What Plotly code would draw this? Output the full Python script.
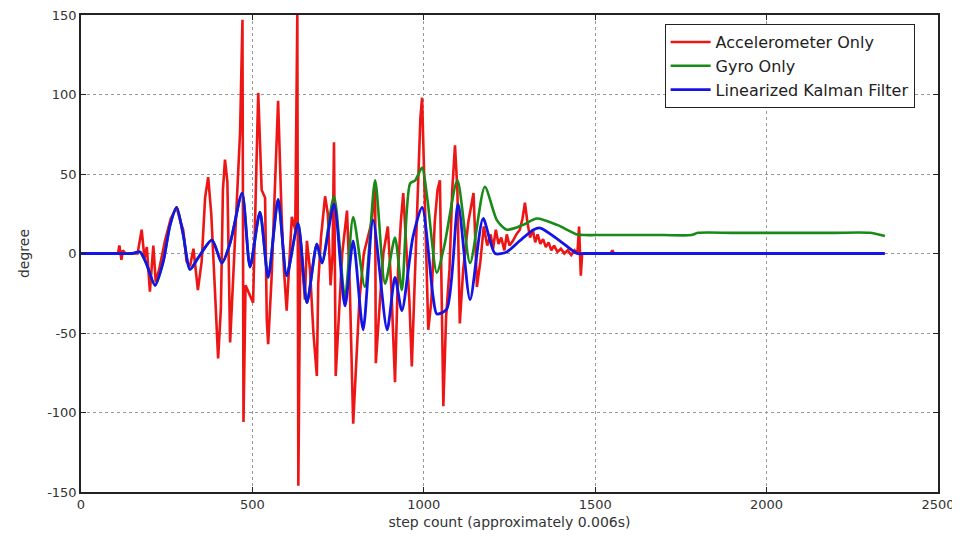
import plotly.graph_objects as go

# ---- data (step count, degrees) ----
accel_x = [108,112,118,122,130,165,177,185,192,201,211,218,228,245,262,279,290,298,308,318,328,341,352,362,371,380,390,400,408,414,420,427,435,442,452,464,471,474,480,490,502,510,517,527,537,542,546,556,566,575,585,592,600,608,615,625,631,634,640,653,659,668,678,688,692,700,712,720,728,734,738,743,752,762,776,784,794,802,812,825,835,848,858,860,872,882,895,905,916,925,933,940,950,958,965,975,985,990,995,1003,1013,1022,1032,1040,1047,1057,1065,1075,1083,1091,1098,1105,1115,1130,1145,1150,1155,1165,1175,1185,1195,1202,1210,1218,1226,1235,1242,1250,1260,1270,1280,1288,1295,1302,1310,1318,1325,1332,1340,1348,1356,1364,1372,1380,1390,1400,1410,1420,1430,1440,1448,1453,1458,1462,1545,1550,1555,1910]
accel_y = [0,5,-4,2,0,0,15,-3,4,-24,5,-18,-10,8,22,29,20,15,-5,-8,3,-23,-5,35,48,25,-20,-66,-35,40,59,45,-56,-25,15,76,147,-106,-20,-25,-31,40,101,40,35,-42,-57,-15,50,96,25,-10,-36,0,23,15,150,-146,10,-29,8,-10,-50,-77,-19,10,36,25,-20,0,70,-77,-36,0,27,-20,-107,-71,-30,0,8,20,44,-69,-30,0,17,-20,-81,-10,20,38,0,-30,-71,-10,60,85,98,40,-48,-30,20,40,46,-96,-40,-10,40,68,40,-44,-10,20,38,10,-21,-5,17,5,12,3,15,6,10,2,12,5,8,12,15,22,32,20,10,15,7,12,6,9,4,7,2,5,1,3,0,2,-1,2,0,17,-14,0,0,2,0,0]

gyro_x = [0,100,150,172,190,216,240,260,279,298,318,341,382,411,435,470,493,522,546,575,600,633,659,688,703,738,770,794,828,858,887,916,936,960,975,995,1010,1038,1060,1098,1135,1178,1213,1242,1290,1330,1389,1447,1470,1500,1600,1700,1780,1800,1900,2000,2100,2200,2300,2345]
gyro_y = [0,0,0,1,-6,-20,-5,18,29,12,-10,-3,8.5,-6,6.5,38,-8.5,26,-15,34,-14,19,-31,6,-6,36,-28,23,-21,46,-19,10,-23,44,46,54,35,-12,5,46,-6,42,21,15,18,22,18,12,11.6,11.6,11.6,11.6,11.6,13,13,13,13,13,13,11]

kalman_x = [0,100,150,172,190,216,240,260,279,298,318,341,382,411,435,470,493,522,546,575,600,633,659,688,703,738,770,794,823,852,893,916,936,968,995,1027,1038,1067,1100,1135,1173,1208,1242,1280,1320,1340,1397,1447,1470,1500,1600,1700,1800,1900,2000,2100,2200,2300,2345]
kalman_y = [0,0,0,1,-6,-20,-5,18,29,12,-10,-3,8.5,-6,6.5,38,-8.5,26,-15,34,-14,19,-31,6,-6,31,-33,8,-48,21,-48,-15,-36,10,29,-27,-38,-35,31,-29,22,0,1,8,15,16,8,0,0,0,0,0,0,0,0,0,0,0,0]

series_names = ["Accelerometer Only", "Gyro Only", "Linearized Kalman Filter"]
x_ticks = [0, 500, 1000, 1500, 2000, 2500]
y_ticks = [-150, -100, -50, 0, 50, 100, 150]

FONT = "DejaVu Sans, Arial, sans-serif"

fig = go.Figure()
fig.add_trace(go.Scatter(x=accel_x, y=accel_y, mode="lines", name=series_names[0],
                         line=dict(color="#ee1515", width=2.6)))
fig.add_trace(go.Scatter(x=gyro_x, y=gyro_y, mode="lines", name=series_names[1],
                         line=dict(color="#178a17", width=2.6, shape="spline", smoothing=0.7)))
fig.add_trace(go.Scatter(x=kalman_x, y=kalman_y, mode="lines", name=series_names[2],
                         line=dict(color="#1414e6", width=2.8, shape="spline", smoothing=0.7)))

axis_common = dict(
    showline=True, linecolor="#222", linewidth=1.5, mirror="ticks",
    ticks="inside", ticklen=5, tickcolor="#222",
    showgrid=True, gridcolor="#999", griddash="dot", gridwidth=1,
    zeroline=False, automargin=False, ticklabeloverflow="allow",
    tickfont=dict(family=FONT, size=13, color="#333"),
)

# the page body adds an 8px offset, so the figure is 8px smaller than the window
fig.update_layout(
    width=952, height=537,
    margin=dict(l=73, r=22, t=7, b=53),
    paper_bgcolor="white", plot_bgcolor="white",
    showlegend=True,
    legend=dict(x=0.681, y=0.981, xanchor="left", yanchor="top",
                bgcolor="white", bordercolor="#222", borderwidth=1,
                font=dict(family=FONT, size=16, color="#222"),
                itemwidth=40),
    xaxis=dict(range=[0, 2500], tickvals=x_ticks, ticktext=[str(v) for v in x_ticks],
               title=dict(text="step count (approximately 0.006s)", standoff=6,
                          font=dict(family=FONT, size=14, color="#333")),
               **axis_common),
    yaxis=dict(range=[-150, 150], tickvals=y_ticks, ticktext=[str(v) for v in y_ticks],
               title=dict(text="degree", standoff=14,
                          font=dict(family=FONT, size=14, color="#333")),
               **axis_common),
)

fig.write_html("out.html")
